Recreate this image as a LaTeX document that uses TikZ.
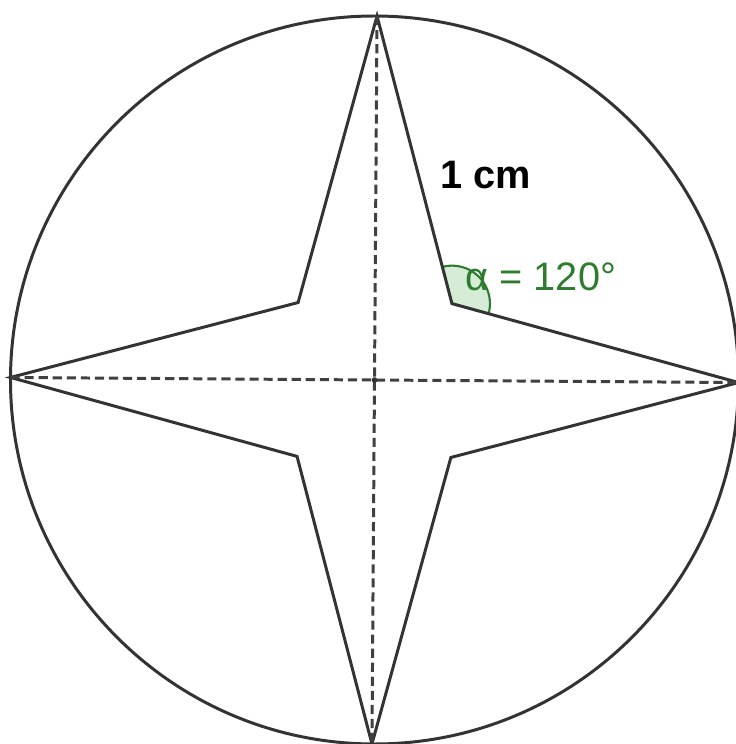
\documentclass[tikz,border=0pt]{standalone}
\usepackage{fontspec}
\setmainfont{Liberation Sans}
\usetikzlibrary{calc}
\definecolor{anglegreen}{RGB}{46,125,46}
\definecolor{anglefill}{RGB}{214,236,214}

\begin{document}
\begin{tikzpicture}[line join=miter]
        \tikzstyle{outline} = [draw, line width=0.85pt, black!80]
        \tikzstyle{axis} = [draw, line width=0.85pt, black!75, dash pattern=on 2.6pt off 1.4pt]
        \tikzstyle{anglemark} = [draw=anglegreen, fill=anglefill, line width=0.6pt]
        \tikzstyle{label} = [anchor=base west, inner sep=0pt, font=\fontsize{11.3}{13}\selectfont]

        \useasboundingbox (0,0) rectangle (7.36,7.44);
        \coordinate (c) at (3.745,3.64);
        % tips on the circle, inner corners on the diagonals
        \foreach \k/\a in {top/90, left/180, bottom/270, right/0}
            \coordinate (\k) at ($(c)+(\a-0.4:3.64)$);
        \foreach \k/\a in {ur/45, ul/135, ll/225, lr/315}
            \coordinate (\k) at ($(c)+(\a-0.4:1.088)$);

        \path [anglemark] (ur) -- ++(-15.4:0.38) arc[start angle=-15.4, end angle=104.6, radius=0.38] -- cycle;

        \path [outline] (c) circle (3.64);
        \path [outline] (top) -- (ur) -- (right) -- (lr) -- (bottom) -- (ll) -- (left) -- (ul) -- cycle;
        \path [axis] (top) -- (bottom);
        \path [axis] (left) -- (right);
        \fill [black!80] (c) circle (0.8pt);

        \node [label, font=\fontsize{11.3}{13}\selectfont\bfseries] (side) at (4.40,5.55) {1 cm};
        \node [label, text=anglegreen] (alpha) at (4.65,4.54) {α = 120°};
    \end{tikzpicture}
\end{document}
